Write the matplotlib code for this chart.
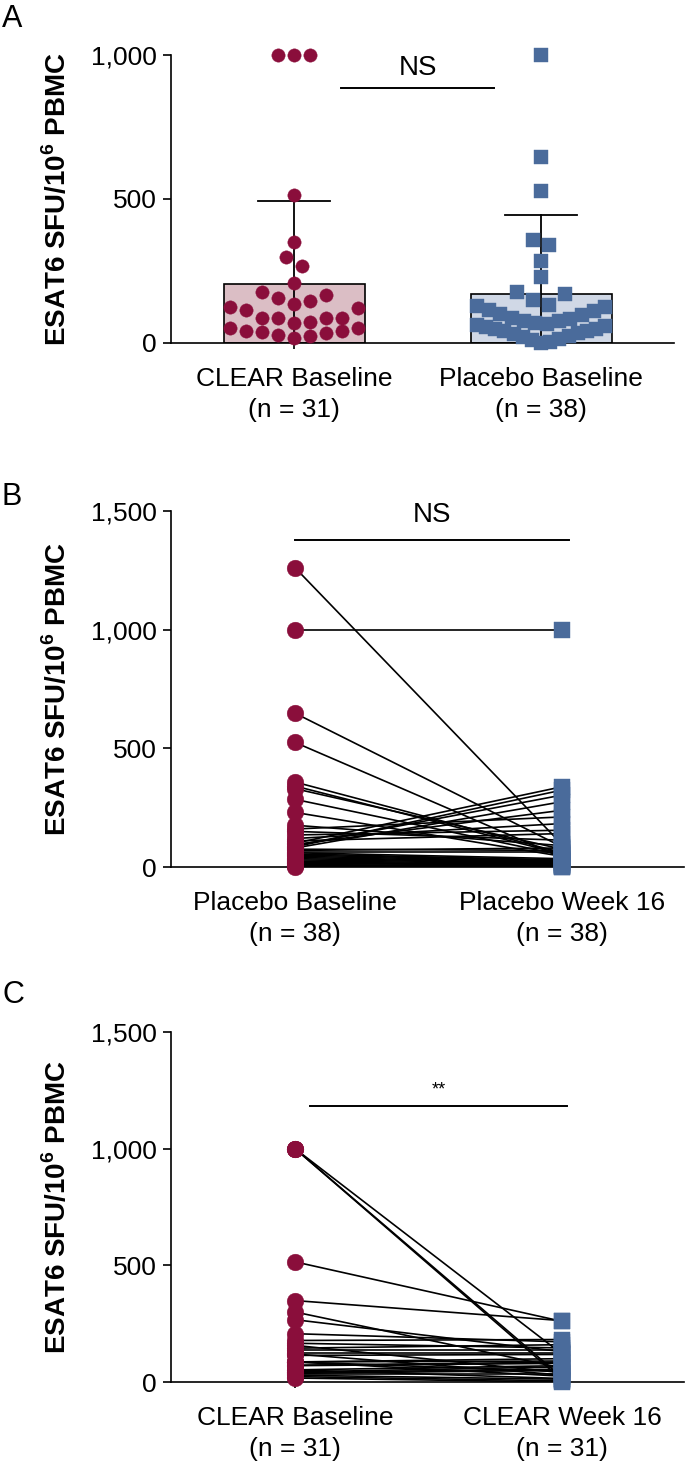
import numpy as np
import matplotlib.pyplot as plt

plt.rcParams['font.family'] = ['Liberation Sans', 'DejaVu Sans']
plt.rcParams['mathtext.fontset'] = 'custom'
plt.rcParams['mathtext.rm'] = 'Liberation Sans'
plt.rcParams['mathtext.bf'] = 'Liberation Sans:bold'

# ---- data ----
ylab = r'ESAT6 SFU/10$^{\mathbf{6}}$ PBMC'

# panel A
a_labels = ['CLEAR Baseline\n(n = 31)', 'Placebo Baseline\n(n = 38)']
clear_base = [1000, 1000, 1000, 515, 349, 300, 267, 207, 178, 166, 157, 145,
              136, 124, 120, 114, 86, 86, 86, 86, 72, 70, 52, 52, 43, 41, 37,
              35, 29, 23, 17]
placebo_base_a = [1000, 647, 527, 358, 341, 285, 230, 177, 171, 151, 131,
                  128, 126, 115, 110, 100, 97, 88, 85, 78, 75, 70, 66,
                  62, 58, 57, 50, 48, 42, 40, 33, 30, 24, 20, 14, 10, 5, 0]
a_mean = [205, 171]
a_sd = [288, 275]
a_ticks = [0, 500, 1000]
a_ticklabels = ['0', '500', '1,000']

# panel B (paired)
b_labels = ['Placebo Baseline\n(n = 38)', 'Placebo Week 16\n(n = 38)']
placebo_base = [1261, 1000, 648, 525, 358, 341, 330, 285, 230, 176, 160, 150,
                135, 120, 110, 100, 95, 90, 85, 80, 75, 70, 65, 60, 55, 50,
                45, 40, 35, 30, 25, 20, 18, 15, 10, 8, 5, 2]
placebo_wk16 = [95, 1000, 85, 40, 60, 55, 75, 50, 45, 90, 211, 113,
                155, 183, 141, 338, 239, 303, 324, 275, 70, 80, 65, 35, 30, 28,
                25, 22, 20, 18, 15, 12, 10, 8, 5, 3, 2, 0]

# panel C (paired, same order as clear_base)
c_labels = ['CLEAR Baseline\n(n = 31)', 'CLEAR Week 16\n(n = 31)']
clear_wk16 = [120, 20, 10, 260, 263, 60, 130, 172, 182, 146, 40, 160,
              136, 124, 30, 118, 100, 90, 45, 25, 85, 80, 70, 15, 65, 55, 50,
              35, 12, 5, 0]
bc_ticks = [0, 500, 1000, 1500]
bc_ticklabels = ['0', '500', '1,000', '1,500']

red = '#8a0e3b'
blue = '#4a6b9b'
pink = '#dbbec5'
lightblue = '#d0d8e6'
fs = 19


def swarm_x(vals, center, binw=65, dmax=0.065, spread=0.52):
    # rows of similar values, smallest in the middle, spread out to the sides
    vals = np.asarray(vals, float)
    x = np.full(len(vals), float(center))
    bins = np.floor(vals / binw)
    for b in np.unique(bins):
        idx = np.where(bins == b)[0]
        idx = idx[np.argsort(vals[idx], kind='stable')]
        n = len(idx)
        if n == 1:
            continue
        d = min(dmax, spread / (n - 1))
        for k, i in enumerate(idx):
            if n % 2:
                off = ((k + 1) // 2) * (1 if k % 2 == 1 else -1)
            else:
                off = (k // 2 + 0.5) * (1 if k % 2 == 0 else -1)
            x[i] = center + off * d
    return x


def style(ax, ticks, ticklabels, xlabels):
    for s in ['top', 'right']:
        ax.spines[s].set_visible(False)
    for s in ['left', 'bottom']:
        ax.spines[s].set_linewidth(1.2)
    ax.set_yticks(ticks)
    ax.set_yticklabels(ticklabels)
    ax.set_xticks([0, 1])
    ax.set_xticklabels(xlabels, linespacing=1.4)
    ax.tick_params(axis='y', length=6, width=1.2, labelsize=fs, pad=4)
    ax.tick_params(axis='x', length=4, width=1.2, labelsize=fs, pad=13)


W, H = 686, 1474
fig = plt.figure(figsize=(W / 100, H / 100), dpi=100)


def add_ax(l, r, top, bot):
    return fig.add_axes([l / W, 1 - bot / H, (r - l) / W, (bot - top) / H])


# ---------------- A ----------------
axA = add_ax(170.6, 674, 55, 343)
axA.bar([0, 1], a_mean, width=0.57, color=[pink, lightblue],
        edgecolor='black', linewidth=1.2, zorder=1)
for i in range(2):
    top = a_mean[i] + a_sd[i]
    axA.plot([i, i], [max(0, a_mean[i] - a_sd[i]), top], color='black', lw=1.3, zorder=2)
    axA.plot([i - 0.145, i + 0.145], [top, top], color='black', lw=1.3, zorder=2)
axA.plot(swarm_x(clear_base, 0), clear_base, 'o', ms=9.6, mfc=red,
         mec=red, mew=0.3, clip_on=False, zorder=4)
axA.plot(swarm_x(placebo_base_a, 1), placebo_base_a, 's', ms=9.4, mfc=blue,
         mec=blue, mew=0.3, clip_on=False, zorder=4)
axA.plot([0.19, 0.81], [886, 886], color='black', lw=1.4, clip_on=False)
axA.text(0.5, 955, 'NS', ha='center', va='center', fontsize=fs + 1)
axA.set_xlim(-0.5, 1.538)
axA.set_ylim(0, 1000)
style(axA, a_ticks, a_ticklabels, a_labels)

# ---------------- B ----------------
axB = add_ax(170.6, 684, 511, 867)
for b, w in zip(placebo_base, placebo_wk16):
    axB.plot([0, 1], [b, w], color='black', lw=1.2, zorder=2)
axB.plot(np.zeros(len(placebo_base)), placebo_base, 'o', ms=12, mfc=red,
         mec=red, mew=0.3, clip_on=False, zorder=4)
axB.plot(np.ones(len(placebo_wk16)), placebo_wk16, 's', ms=11.5, mfc=blue,
         mec=blue, mew=0.3, clip_on=False, zorder=4)
axB.plot([0, 1.026], [1378, 1378], color='black', lw=1.4, clip_on=False)
axB.text(0.513, 1483, 'NS', ha='center', va='center', fontsize=fs + 1)
axB.set_xlim(-0.466, 1.457)
axB.set_ylim(0, 1500)
style(axB, bc_ticks, bc_ticklabels, b_labels)

# ---------------- C ----------------
axC = add_ax(170.6, 684, 1032, 1382)
for b, w in zip(clear_base, clear_wk16):
    axC.plot([0, 1], [b, w], color='black', lw=1.2, zorder=2)
axC.plot(np.zeros(len(clear_base)), clear_base, 'o', ms=12, mfc=red,
         mec=red, mew=0.3, clip_on=False, zorder=4)
axC.plot(np.ones(len(clear_wk16)), clear_wk16, 's', ms=11.5, mfc=blue,
         mec=blue, mew=0.3, clip_on=False, zorder=4)
axC.plot([0.056, 1.02], [1183, 1183], color='black', lw=1.4, clip_on=False)
axC.text(0.538, 1250, '**', ha='center', va='center', fontsize=13)
axC.set_xlim(-0.466, 1.457)
axC.set_ylim(0, 1500)
style(axC, bc_ticks, bc_ticklabels, c_labels)

# y labels and panel letters
for ax, top, bot in [(axA, 55, 343), (axB, 511, 867), (axC, 1032, 1382)]:
    fig.text(57 / W, 1 - (top + bot) / 2 / H, ylab, rotation=90, ha='center',
             va='center', fontsize=20, fontweight='bold')
for letter, y in [('A', 19), ('B', 497), ('C', 995)]:
    fig.text(2 / W, 1 - y / H, letter, ha='left', va='center', fontsize=22)

fig.savefig('out.png', dpi=100)
